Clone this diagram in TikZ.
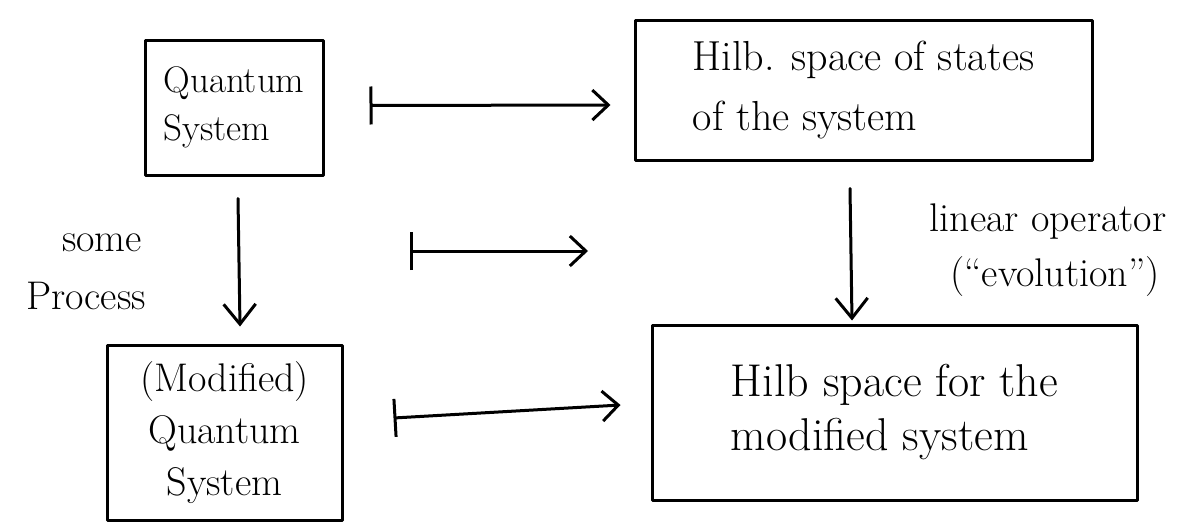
\documentclass[tikz,border=0pt]{standalone}
\usetikzlibrary{arrows.meta}
\begin{document}
\begin{tikzpicture}[x=1pt,y=-1pt,
  stroke/.style={line width=3pt,line cap=round,line join=round},
  boxnode/.style={stroke,draw,inner sep=0pt,align=left},
  labelnode/.style={inner sep=0pt,align=center,font=\fontsize{40}{50}\selectfont},
  downarr/.style={stroke,-{Straight Barb[length=20pt,width=32pt,line width=3pt]}},
  mapsarr/.style={stroke,{Bar[width=38pt,line width=3pt]}-{Straight Barb[length=16pt,width=30pt,line width=3pt]}}]
\useasboundingbox (0,0) rectangle (1191,525);
% boxes
\node[boxnode,minimum width=178pt,minimum height=135pt,font=\fontsize{37}{48}\selectfont] (qs) at (234,107.5) {Quantum\\System};
\node[boxnode,minimum width=457pt,minimum height=140pt,font=\fontsize{42}{60}\selectfont] (hs) at (863.5,90) {Hilb. space of states\\of the system};
\node[boxnode,align=center,minimum width=235pt,minimum height=175pt,font=\fontsize{40}{52}\selectfont] (mq) at (224.5,432.5) {(Modified)\\Quantum\\System};
\node[boxnode,minimum width=485pt,minimum height=175pt,font=\fontsize{46}{54}\selectfont] (hm) at (894.5,412.5) {Hilb space for the\\modified system};
% labels
\node[labelnode] (lsome) at (102,243) {some};
\node[labelnode] (lproc) at (86,296) {Process};
\node[labelnode] (llin) at (1048,222) {linear operator};
\node[labelnode] (levo) at (1055,277) {(``evolution'')};
% connector end points
\coordinate (m1s) at ([xshift=45pt,yshift=2pt]qs.east);
\coordinate (m1e) at ([xshift=-23pt,yshift=-15pt]hs.west);
\coordinate (d1s) at ([xshift=4pt,yshift=-22pt]qs.south);
\coordinate (d1e) at ([xshift=15.5pt,yshift=17pt]mq.north);
\coordinate (mms) at (410,251);
\coordinate (mme) at (588,251);
\coordinate (d2s) at ([xshift=-13.5pt,yshift=-27pt]hs.south);
\coordinate (d2e) at ([xshift=-42.5pt,yshift=3pt]hm.north);
\coordinate (m3s) at ([xshift=50pt,yshift=14.5pt]mq.east);
\coordinate (m3e) at ([xshift=-30pt,yshift=7.5pt]hm.west);
% connectors
\draw[mapsarr] (m1s) -- (m1e);
\draw[downarr] (d1s) -- (d1e);
\draw[mapsarr] (mms) -- (mme);
\draw[downarr] (d2s) -- (d2e);
\draw[mapsarr] (m3s) -- (m3e);
\end{tikzpicture}
\end{document}
